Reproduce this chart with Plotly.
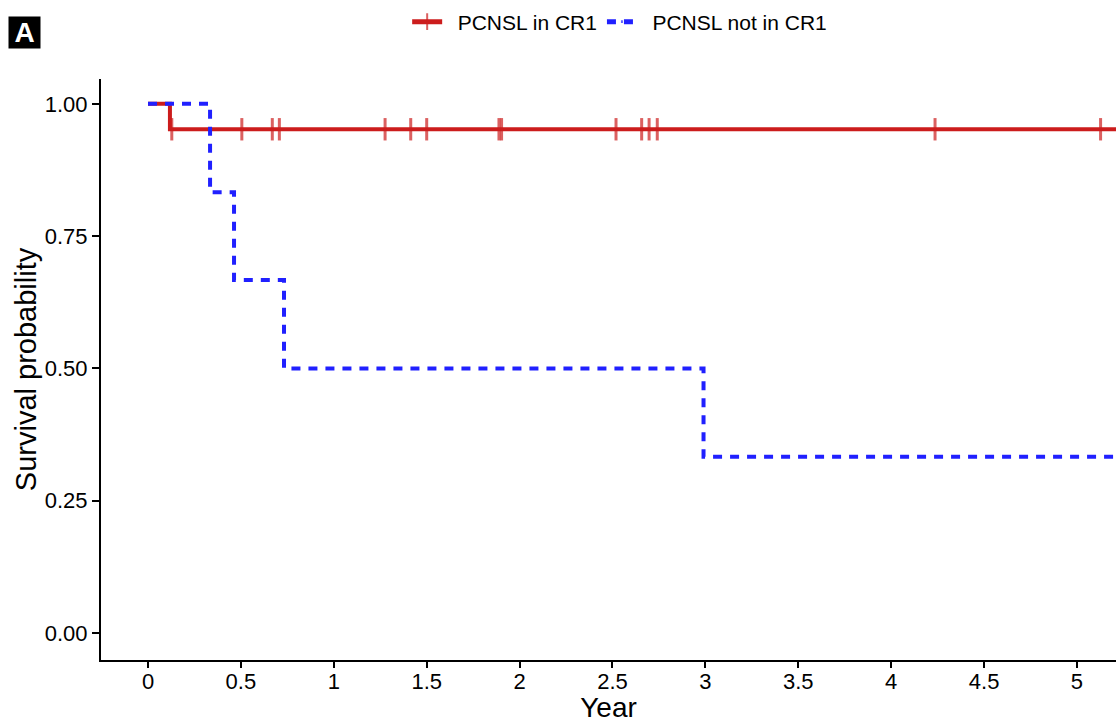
import plotly.graph_objects as go

# ---- data ----
red_name = "PCNSL in CR1"
blue_name = "PCNSL not in CR1"
red_event_times = [0.118]
red_event_surv = [0.952]
red_censor_times = [0.128, 0.505, 0.669, 0.707, 1.276, 1.414, 1.500, 1.889,
                    1.903, 2.519, 2.657, 2.697, 2.741, 4.236, 5.127]
blue_event_times = [0.334, 0.463, 0.732, 2.990]
blue_event_surv = [0.833, 0.667, 0.500, 0.333]
blue_censor_times = []
follow_end = 5.35

x_ticks = [0, 0.5, 1, 1.5, 2, 2.5, 3, 3.5, 4, 4.5, 5]
x_tick_labels = ["0", "0.5", "1", "1.5", "2", "2.5", "3", "3.5", "4", "4.5", "5"]
y_ticks = [0, 0.25, 0.5, 0.75, 1.0]
y_tick_labels = ["0.00", "0.25", "0.50", "0.75", "1.00"]

RED = "#CC1C1C"
BLUE = "#2020FF"


def build_steps(ev_t, ev_s, cen_t, end):
    pts = [(0.0, 1.0, 0)]
    for t, s in zip(ev_t, ev_s):
        pts.append((t, s, 0))
    for t in cen_t:
        pts.append((t, None, 1))
    pts.append((end, None, 0))
    pts.sort(key=lambda p: p[0])
    xs, ys, sz = [], [], []
    cur = 1.0
    for t, s, c in pts:
        if s is not None:
            cur = s
        xs.append(t)
        ys.append(cur)
        sz.append(16 if c else 0)
    return xs, ys, sz


fig = go.Figure()
for name, ev_t, ev_s, cen_t, col, dash in [
    (red_name, red_event_times, red_event_surv, red_censor_times, RED, "solid"),
    (blue_name, blue_event_times, blue_event_surv, blue_censor_times, BLUE, "9px,8px"),
]:
    xs, ys, sz = build_steps(ev_t, ev_s, cen_t, follow_end)
    fig.add_trace(go.Scatter(
        x=xs, y=ys, name="\u2002" + name, mode="lines+markers",
        line=dict(shape="hv", color=col, width=4, dash=dash),
        marker=dict(symbol="line-ns-open", size=sz, color=col,
                    line=dict(color=col, width=3)),
    ))

fig.update_layout(
    width=1116, height=723,
    margin=dict(l=101, r=0, t=79, b=63, autoexpand=False),
    paper_bgcolor="white", plot_bgcolor="white",
    font=dict(family="Liberation Sans, Arial, sans-serif", color="black"),
    showlegend=True,
    legend=dict(orientation="h", x=0.511, xanchor="center", y=1.098, yanchor="middle",
                font=dict(size=21), itemsizing="constant", itemwidth=30,
                bgcolor="rgba(0,0,0,0)"),
    annotations=[dict(text="<b>A</b>", xref="paper", yref="paper", x=-0.0916, y=1.052,
                      xanchor="left", yanchor="bottom", showarrow=False,
                      font=dict(size=28, color="white"), bgcolor="black",
                      width=29, height=29, align="center", valign="middle",
                      borderpad=1)],
)
fig.update_xaxes(
    range=[-0.253, 5.21], tickvals=x_ticks, ticktext=x_tick_labels,
    showline=True, linecolor="black", linewidth=2, ticks="outside",
    tickcolor="black", tickwidth=2, ticklen=6, showgrid=False, zeroline=False,
    tickfont=dict(size=22, color="black"), ticklabelstandoff=-5,
    title=dict(text="Year", font=dict(size=28, color="black"), standoff=14),
)
fig.update_yaxes(
    range=[-0.051, 1.047], tickvals=y_ticks, ticktext=y_tick_labels,
    showline=True, linecolor="black", linewidth=2, ticks="outside",
    tickcolor="black", tickwidth=2, ticklen=7, showgrid=False, zeroline=False,
    tickfont=dict(size=22, color="black"),
    title=dict(text="Survival probability", font=dict(size=29, color="black"), standoff=0),
)

fig.write_html(
    "out.html",
    config={"displayModeBar": False},
    post_script="document.body.style.margin='0';document.body.style.overflow='hidden';",
)
